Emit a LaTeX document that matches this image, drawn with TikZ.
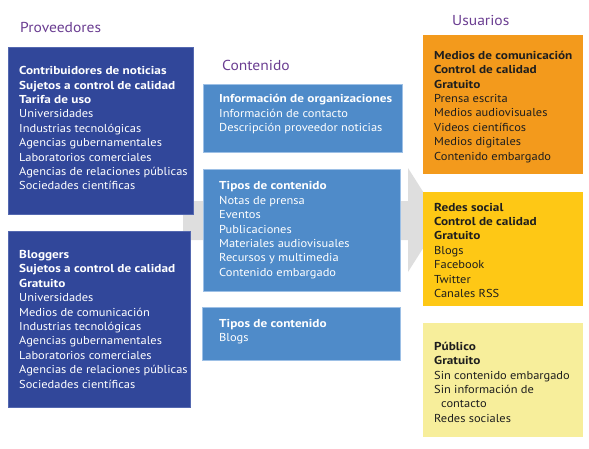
\documentclass[tikz,border=0pt]{standalone}
\usepackage{fontspec}
\setmainfont{PT Sans}[FakeStretch=1.08,BoldFeatures={FakeStretch=1.15}]
\usepackage{tikz}
\usetikzlibrary{positioning}

\definecolor{provblue}{HTML}{31479A}
\definecolor{provline}{HTML}{5468B0}
\definecolor{contblue}{HTML}{4F8BC9}
\definecolor{contline}{HTML}{9DC0E6}
\definecolor{usuorange}{HTML}{F39A1C}
\definecolor{usuyellow}{HTML}{FEC815}
\definecolor{usupale}{HTML}{F7EE9B}
\definecolor{arrowgray}{HTML}{DEDEDE}
\definecolor{titlepurple}{HTML}{6A3D91}
\definecolor{darktext}{HTML}{1E1E1E}

\begin{document}
\begin{tikzpicture}[x=1pt,y=-1pt]
\tikzset{box/.style = {anchor=north west,inner sep=0pt,line width=0.6pt},
         boxtext/.style = {anchor=west,align=left,inner sep=0pt,
                           font=\fontsize{11.5}{14.4}\selectfont},
         title/.style = {anchor=west,inner sep=0pt,text=titlepurple,
                         font=\fontsize{14.4}{17}\selectfont}}
\useasboundingbox (0,0) rectangle (589,448);
% arrow behind the boxes
\fill[arrowgray] (183,201) -- (408,201) -- (408,168) -- (441,220)
    -- (408,272) -- (408,240) -- (183,240) -- cycle;
% titles
\node[title] (proveedores) at (20,27) {Proveedores};
\node[title] (contenido) at (222,65) {Contenido};
\node[title] (usuarios) at (452,20) {Usuarios};
% boxes
\node[box,fill=provblue,draw=provline,minimum width=185pt,minimum height=167pt] (prov1) at (8,47) {};
\node[box,fill=provblue,draw=provline,minimum width=182pt,minimum height=176pt] (prov2) at (8,231) {};
\node[box,fill=contblue,draw=contline,minimum width=199pt,minimum height=68pt] (cont1) at (203,84) {};
\node[box,fill=contblue,draw=contline,minimum width=197pt,minimum height=122pt] (cont2) at (203,169) {};
\node[box,fill=contblue,draw=contline,minimum width=198pt,minimum height=53pt] (cont3) at (202,307) {};
\node[box,fill=usuorange,minimum width=160pt,minimum height=139pt] (usu1) at (423,35) {};
\node[box,fill=usuyellow,minimum width=160pt,minimum height=114pt] (usu2) at (423,192) {};
\node[box,fill=usupale,minimum width=160pt,minimum height=114pt] (usu3) at (423,323) {};
% texts
\node[boxtext,text=white] (prov1text) at ([xshift=11pt,yshift=2.5pt]prov1.west) {%
    \textbf{Contribuidores de noticias}\\ \textbf{Sujetos a control de calidad}\\
    \textbf{Tarifa de uso}\\ Universidades\\ Industrias tecnológicas\\
    Agencias gubernamentales\\ Laboratorios comerciales\\
    Agencias de relaciones públicas\\ Sociedades científicas};
\node[boxtext,text=white] (prov2text) at ([xshift=11pt]prov2.west) {%
    \textbf{Bloggers}\\ \textbf{Sujetos a control de calidad}\\ \textbf{Gratuito}\\
    Universidades\\ Medios de comunicación\\ Industrias tecnológicas\\
    Agencias gubernamentales\\ Laboratorios comerciales\\
    Agencias de relaciones públicas\\ Sociedades científicas};
\node[boxtext,text=white] (cont1text) at ([xshift=16pt,yshift=4pt]cont1.west) {%
    \textbf{Información de organizaciones}\\ Información de contacto\\
    Descripción proveedor noticias};
\node[boxtext,text=white] (cont2text) at ([xshift=16pt]cont2.west) {%
    \textbf{Tipos de contenido}\\ Notas de prensa\\ Eventos\\ Publicaciones\\
    Materiales audiovisuales\\ Recursos y multimedia\\ Contenido embargado};
\node[boxtext,text=white] (cont3text) at ([xshift=17pt,yshift=2pt]cont3.west) {%
    \textbf{Tipos de contenido}\\ Blogs};
\node[boxtext,text=darktext] (usu1text) at ([xshift=11pt,yshift=-2pt]usu1.west) {%
    \textbf{Medios de comunicación}\\ \textbf{Control de calidad}\\ \textbf{Gratuito}\\
    Prensa escrita\\ Medios audiovisuales\\ Videos científicos\\
    Medios digitales\\ Contenido embargado};
\node[boxtext,text=darktext] (usu2text) at ([xshift=11pt,yshift=-1pt]usu2.west) {%
    \textbf{Redes social}\\ \textbf{Control de calidad}\\ \textbf{Gratuito}\\
    Blogs\\ Facebook\\ Twitter\\ Canales RSS};
\node[boxtext,text=darktext] (usu3text) at ([xshift=11pt,yshift=-2pt]usu3.west) {%
    \textbf{Público}\\ \textbf{Gratuito}\\ Sin contenido embargado\\
    Sin información de\\ \hspace*{7pt}contacto\\ Redes sociales};
\end{tikzpicture}
\end{document}
